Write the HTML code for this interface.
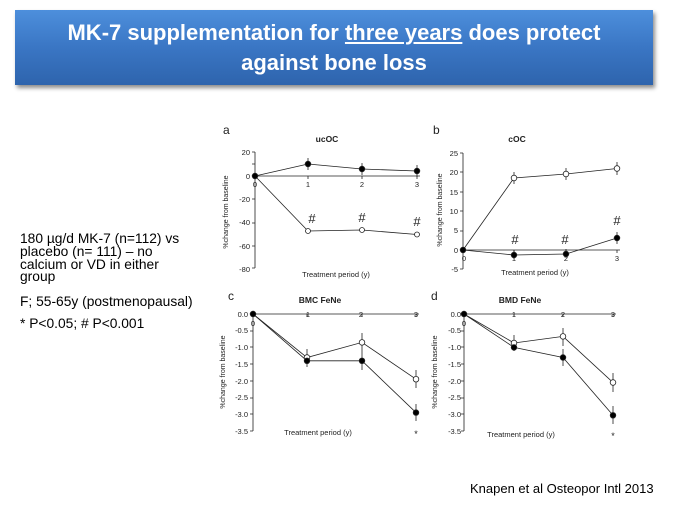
<!DOCTYPE html>
<html><head><meta charset="utf-8"><style>
html,body{margin:0;padding:0;background:#fff;}
body{width:690px;height:512px;position:relative;overflow:hidden;font-family:"Liberation Sans",sans-serif;}
.banner{position:absolute;left:15px;top:10px;width:638px;height:75px;background:linear-gradient(#4d8fdc,#3a76c4 50%,#2e64ad);box-shadow:2px 3px 4px rgba(0,0,0,0.45);color:#fff;text-align:center;font-family:"Liberation Sans",sans-serif;font-weight:bold;font-size:22px;line-height:30px;padding-top:8px;box-sizing:border-box;white-space:nowrap}
.left{position:absolute;left:20px;top:233px;font-size:13.8px;line-height:12.8px;color:#000}
.cite{position:absolute;left:470px;top:481px;font-size:13px;color:#000}
svg{position:absolute;left:0;top:0}
svg text{font-family:"Liberation Sans",sans-serif}
</style></head><body>
<div class="banner">MK-7 supplementation for <u>three years</u> does protect<br>against bone loss</div>
<div class="left">180 µg/d MK-7 (n=112) vs<br>placebo (n= 111) – no<br>calcium or VD in either<br>group<br><div style="height:12px"></div>F; 55-65y (postmenopausal)<br><div style="height:9px"></div>* P&lt;0.05; # P&lt;0.001</div>
<div class="cite">Knapen et al Osteopor Intl 2013</div>
<svg width="690" height="512" viewBox="0 0 690 512" stroke="#222" stroke-width="0.8" fill="none">
<g font-size="7.5" fill="#222" stroke="none">
<text x="223" y="134" font-size="12">a</text>
<text x="327" y="142" font-size="8.5" font-weight="bold" text-anchor="middle">ucOC</text>
<g text-anchor="end"><text x="250" y="155">20</text><text x="250" y="179">0</text><text x="250" y="202">-20</text><text x="250" y="225">-40</text><text x="250" y="249">-60</text><text x="250" y="272">-80</text></g>
<g text-anchor="middle"><text x="255" y="187">0</text><text x="308" y="187">1</text><text x="362" y="187">2</text><text x="417" y="187">3</text></g>
<text x="336" y="277" text-anchor="middle">Treatment period (y)</text>
<text transform="translate(228,212) rotate(-90)" text-anchor="middle" font-size="7">%change from baseline</text>
<g font-size="13" text-anchor="middle"><text x="312" y="223">#</text><text x="362" y="222">#</text><text x="417" y="226">#</text></g>
<text x="433" y="134" font-size="12">b</text>
<text x="517" y="142" font-size="8.5" font-weight="bold" text-anchor="middle">cOC</text>
<g text-anchor="end"><text x="458" y="156">25</text><text x="458" y="175">20</text><text x="458" y="195">15</text><text x="458" y="214">10</text><text x="458" y="233">5</text><text x="458" y="253">0</text><text x="458" y="272">-5</text></g>
<g text-anchor="middle"><text x="464" y="261">0</text><text x="514" y="261">1</text><text x="566" y="261">2</text><text x="617" y="261">3</text></g>
<text x="535" y="275" text-anchor="middle">Treatment period (y)</text>
<text transform="translate(442,210) rotate(-90)" text-anchor="middle" font-size="7">%change from baseline</text>
<g font-size="13" text-anchor="middle"><text x="515" y="244">#</text><text x="565" y="244">#</text><text x="617" y="225">#</text></g>
<text x="228" y="300" font-size="12">c</text>
<text x="320" y="303" font-size="8.5" font-weight="bold" text-anchor="middle">BMC FeNe</text>
<g text-anchor="end"><text x="248" y="317">0.0</text><text x="248" y="333">-0.5</text><text x="248" y="350">-1.0</text><text x="248" y="367">-1.5</text><text x="248" y="384">-2.0</text><text x="248" y="400">-2.5</text><text x="248" y="417">-3.0</text><text x="248" y="434">-3.5</text></g>
<g text-anchor="middle"><text x="253" y="326">0</text><text x="308" y="317">1</text><text x="361" y="317">2</text><text x="416" y="317">3</text></g>
<text x="318" y="435" text-anchor="middle">Treatment period (y)</text>
<text x="416" y="437" text-anchor="middle" font-size="9">*</text>
<text transform="translate(225,372) rotate(-90)" text-anchor="middle" font-size="7">%change from baseline</text>
<text x="431" y="300" font-size="12">d</text>
<text x="520" y="303" font-size="8.5" font-weight="bold" text-anchor="middle">BMD FeNe</text>
<g text-anchor="end"><text x="461" y="317">0.0</text><text x="461" y="333">-0.5</text><text x="461" y="350">-1.0</text><text x="461" y="367">-1.5</text><text x="461" y="384">-2.0</text><text x="461" y="400">-2.5</text><text x="461" y="417">-3.0</text><text x="461" y="434">-3.5</text></g>
<g text-anchor="middle"><text x="464" y="326">0</text><text x="514" y="317">1</text><text x="563" y="317">2</text><text x="613" y="317">3</text></g>
<text x="521" y="437" text-anchor="middle">Treatment period (y)</text>
<text x="613" y="439" text-anchor="middle" font-size="9">*</text>
<text transform="translate(437,372) rotate(-90)" text-anchor="middle" font-size="7">%change from baseline</text>
</g>
<path d="M255 152V268M252 152h3M252 164h3M252 176h3M252 199h3M252 223h3M252 246h3M252 268h3M255 176H420M308 176v3M362 176v3M417 176v3"/>
<path d="M255 176L308 231L362 230L417 234.5"/>
<path d="M255 176L308 164L362 169L417 171M308 158v12M362 163v12M417 165v12"/>
<g fill="#000"><circle cx="255" cy="176" r="2.8"/><circle cx="308" cy="164" r="2.8"/><circle cx="362" cy="169" r="2.8"/><circle cx="417" cy="171" r="2.8"/></g>
<g fill="#fff"><circle cx="308" cy="231" r="2.5"/><circle cx="362" cy="230" r="2.5"/><circle cx="417" cy="234.5" r="2.5"/></g>
<path d="M463 153V269M460 153h3M460 172h3M460 192h3M460 211h3M460 231h3M460 250h3M460 269h3M463 250H620M514 250v3M566 250v3M617 250v3"/>
<path d="M463 250L514 178L566 174L617 168.5M514 172v12M566 168v12M617 162v13"/>
<path d="M463 250L514 255L566 254L617 238M514 250v9M566 249v9M617 232v12"/>
<g fill="#fff"><circle cx="514" cy="178" r="2.8"/><circle cx="566" cy="174" r="2.8"/><circle cx="617" cy="168.5" r="2.8"/></g>
<g fill="#000"><circle cx="463" cy="250" r="2.8"/><circle cx="514" cy="255" r="2.8"/><circle cx="566" cy="254" r="2.8"/><circle cx="617" cy="238" r="2.8"/></g>
<path d="M253 314V431M250 314h3M250 331h3M250 347h3M250 364h3M250 381h3M250 398h3M250 414h3M250 431h3M253 314H419M307 314v3M362 314v3M416 314v3"/>
<path d="M253 314L307 357.5L362 342.4L416 379.2M307 349v18M362 333v19M416 370v18"/>
<path d="M253 314L307 360.8L362 360.8L416 412.6M416 404v17M362 352v18"/>
<g fill="#fff"><circle cx="307" cy="357.5" r="2.8"/><circle cx="362" cy="342.4" r="2.8"/><circle cx="416" cy="379.2" r="2.8"/></g>
<g fill="#000"><circle cx="253" cy="314" r="2.8"/><circle cx="307" cy="360.8" r="2.8"/><circle cx="362" cy="360.8" r="2.8"/><circle cx="416" cy="412.6" r="2.8"/></g>
<path d="M464 314V431M461 314h3M461 331h3M461 347h3M461 364h3M461 381h3M461 398h3M461 414h3M461 431h3M464 314H616M514 314v3M563 314v3M613 314v3"/>
<path d="M464 314L514 343L563 336.4L613 382.5M514 335v16M563 328v18M613 373v19"/>
<path d="M464 314L514 347.4L563 357.5L613 415.3M563 349v17M613 406v18"/>
<g fill="#fff"><circle cx="514" cy="343" r="2.8"/><circle cx="563" cy="336.4" r="2.8"/><circle cx="613" cy="382.5" r="2.8"/></g>
<g fill="#000"><circle cx="464" cy="314" r="2.8"/><circle cx="514" cy="347.4" r="2.8"/><circle cx="563" cy="357.5" r="2.8"/><circle cx="613" cy="415.3" r="2.8"/></g>
</svg>
</body></html>
